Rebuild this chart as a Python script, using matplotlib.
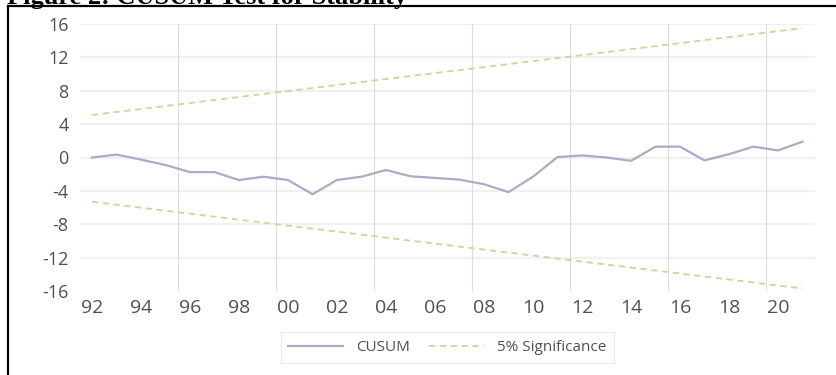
import matplotlib
matplotlib.use("Agg")
import matplotlib.pyplot as plt
from matplotlib.lines import Line2D

years = list(range(1992, 2022))
cusum = [0.0, 0.35, -0.25, -0.9, -1.75, -1.75, -2.7, -2.3, -2.7, -4.4,
         -2.7, -2.3, -1.5, -2.25, -2.45, -2.65, -3.2, -4.15, -2.3, 0.05,
         0.25, 0.0, -0.4, 1.3, 1.3, -0.35, 0.4, 1.3, 0.85, 1.9]
sig_years = [1992, 2021]
sig_upper = [5.1, 15.5]
sig_lower = [-5.3, -15.7]

xtick_years = list(range(1992, 2021, 2))
xtick_labels = ['92', '94', '96', '98', '00', '02', '04', '06', '08', '10',
                '12', '14', '16', '18', '20']
yticks = [-16, -12, -8, -4, 0, 4, 8, 12, 16]
vgrid_pos = [1995.5, 1999.5, 2003.5, 2007.5, 2011.5, 2015.5, 2019.5]

W, H = 837, 375
fig = plt.figure(figsize=(W / 100, H / 100), dpi=100)
fig.patch.set_facecolor('white')

ax = fig.add_axes([79.75 / W, (H - 291) / H, (814.75 - 79.75) / W, (291 - 24) / H])
ax.set_xlim(1991.5, 2021.5)
ax.set_ylim(-16, 16)

for s in ax.spines.values():
    s.set_visible(False)

ax.set_yticks(yticks)
ax.set_yticklabels([str(v) for v in yticks])
ax.set_xticks(xtick_years)
ax.set_xticklabels(xtick_labels)
ax.tick_params(axis='both', length=0, labelcolor='#505050')
ax.tick_params(axis='y', pad=8, labelsize=13)
ax.tick_params(axis='x', pad=6, labelsize=14)
for lab in ax.get_xticklabels() + ax.get_yticklabels():
    lab.set_family('Open Sans')

for yv in yticks[1:]:
    ax.axhline(yv, color='#f0f0f0', lw=1.6, zorder=0)
for xv in vgrid_pos:
    ax.axvline(xv, color='#dcdcdc', lw=0.8, zorder=0)

ax.plot(years, cusum, color='#ababc4', lw=1.6, label='CUSUM', zorder=3)
ax.plot(sig_years, sig_upper, color='#d8ce9e', lw=1.3, ls=(0, (3.5, 2.5)),
        label='5% Significance', zorder=2)
ax.plot(sig_years, sig_lower, color='#d8ce9e', lw=1.3, ls=(0, (3.5, 2.5)), zorder=2)

leg = ax.legend(loc='center', bbox_to_anchor=(0.5, (291 - 347.5) / (291 - 24)),
                ncol=2, frameon=True, fancybox=False, handlelength=3.6,
                columnspacing=1.3, handletextpad=0.8, borderpad=0.5,
                prop={'family': 'Open Sans', 'size': 11})
leg.get_frame().set_edgecolor('#e4e4e4')
leg.get_frame().set_linewidth(0.8)
for t in leg.get_texts():
    t.set_color('#505050')

# document frame and cut-off caption
fig.add_artist(Line2D([8 / W, 1.0], [1 - 6 / H, 1 - 6 / H], color='black', lw=1.6))
fig.add_artist(Line2D([8 / W, 8 / W], [0, 1 - 6 / H], color='black', lw=1.6))
fig.text(7 / W, 1 - 4 / H, 'Figure 2: CUSUM Test for Stability', family='Liberation Serif',
         fontweight='bold', fontsize=19, va='baseline', ha='left', color='black')

fig.savefig('out.png', dpi=100)
